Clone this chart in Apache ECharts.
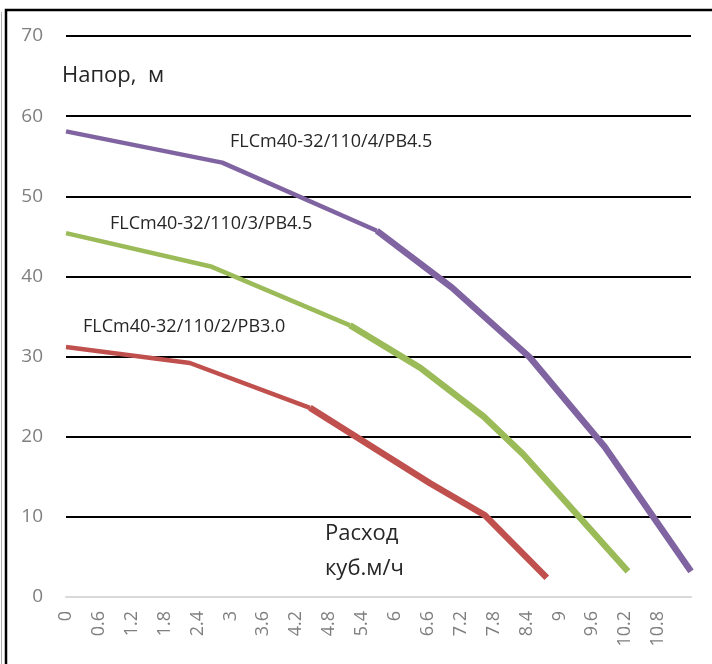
<!DOCTYPE html>
<html>
<head>
<meta charset="utf-8">
<script src="https://cdn.jsdelivr.net/npm/echarts@6/dist/echarts.min.js"></script>
<style>
html,body{margin:0;padding:0;background:#fff;}
#c{width:712px;height:664px;}
</style>
</head>
<body>
<div id="c"></div>
<script>
// ---- data (flow, m3/h  ->  head, m) ----
const seriesNames = ['FLCm40-32/110/4/PB4.5', 'FLCm40-32/110/3/PB4.5', 'FLCm40-32/110/2/PB3.0'];
const purpleFlow = [0, 2.85, 5.67, 7.04, 8.46, 9.83, 11.4];
const purpleHead = [58.1, 54.2, 45.7, 38.6, 29.9, 18.7, 3.2];
const greenFlow  = [0, 2.66, 5.18, 6.46, 7.62, 8.34, 10.25];
const greenHead  = [45.4, 41.2, 33.9, 28.6, 22.5, 17.8, 3.2];
const redFlow    = [0, 2.26, 4.45, 6.64, 7.64, 8.77];
const redHead    = [31.2, 29.2, 23.6, 14.2, 10.2, 2.4];
const yAxisTitle = 'Напор,  м';
const xAxisTitle = ['Расход', 'куб.м/ч'];
const xMin = 0, xMax = 11.4, xStep = 0.6;
const yMin = 0, yMax = 70, yStep = 10;

// ---- build ----
const FONT = '"Open Sans", "Noto Sans", sans-serif';
function pairs(xs, ys, from, to) {
  const out = [];
  for (let i = from; i <= to; i++) out.push([xs[i], ys[i]]);
  return out;
}
const joinIdx = 2; // first segments drawn thinner
const curves = [
  {name: seriesNames[0], xs: purpleFlow, ys: purpleHead, color: '#8064a2'},
  {name: seriesNames[1], xs: greenFlow,  ys: greenHead,  color: '#9bbb59'},
  {name: seriesNames[2], xs: redFlow,    ys: redHead,    color: '#c0504d'}
];
const series = [];
curves.forEach(c => {
  series.push({
    name: c.name, type: 'line', symbol: 'none', silent: true,
    data: pairs(c.xs, c.ys, 0, joinIdx),
    lineStyle: {color: c.color, width: 4.5, join: 'round', cap: 'butt'}
  });
  series.push({
    name: c.name, type: 'line', symbol: 'none', silent: true,
    data: pairs(c.xs, c.ys, joinIdx, c.xs.length - 1),
    lineStyle: {color: c.color, width: 6.5, join: 'round', cap: 'butt'}
  });
});

const chart = echarts.init(document.getElementById('c'), null, {renderer: 'canvas'});
const txt = (x, y, s, size) => ({
  type: 'text', left: x, top: y - size * 0.45, z: 10,
  style: {text: s, font: size + 'px ' + FONT, fill: '#262626'}
});
chart.setOption({
  animation: false,
  backgroundColor: '#fff',
  grid: {left: 66, right: 21, top: 36, bottom: 67, containLabel: false, outerBoundsMode: 'none'},
  xAxis: {
    type: 'value', min: xMin, max: xMax, interval: xStep,
    axisLine: {show: true, lineStyle: {color: '#d9d9d9', width: 2}},
    axisTick: {show: false},
    splitLine: {show: false},
    axisLabel: {
      rotate: 90, margin: 14, fontSize: 18, color: '#7f7f7f', fontFamily: FONT,
      showMaxLabel: false, showMinLabel: true,
      formatter: v => String(Math.round(v * 10) / 10)
    }
  },
  yAxis: {
    type: 'value', min: yMin, max: yMax, interval: yStep,
    axisLine: {show: false}, axisTick: {show: false},
    axisLabel: {margin: 23, fontSize: 19, color: '#7f7f7f', fontFamily: FONT},
    splitLine: {show: true, lineStyle: {color: ['#d9d9d9', '#000', '#000', '#000', '#000', '#000', '#000', '#000'], width: 2}}
  },
  series: series,
  graphic: [
    {type: 'rect', shape: {x: 6, y: 10, width: 740, height: 700}, style: {fill: 'none', stroke: '#000', lineWidth: 2.5}, z: 20},
    {type: 'line', shape: {x1: 1.5, y1: 12, x2: 1.5, y2: 664}, style: {stroke: '#b0b0b0', lineWidth: 1}, z: 20},
    txt(62, 75, yAxisTitle, 22),
    txt(325, 533, xAxisTitle[0], 22),
    txt(325, 568, xAxisTitle[1], 22),
    txt(230, 141, seriesNames[0], 18),
    txt(110, 223, seriesNames[1], 18),
    txt(83, 326, seriesNames[2], 18)
  ]
});
</script>
</body>
</html>
